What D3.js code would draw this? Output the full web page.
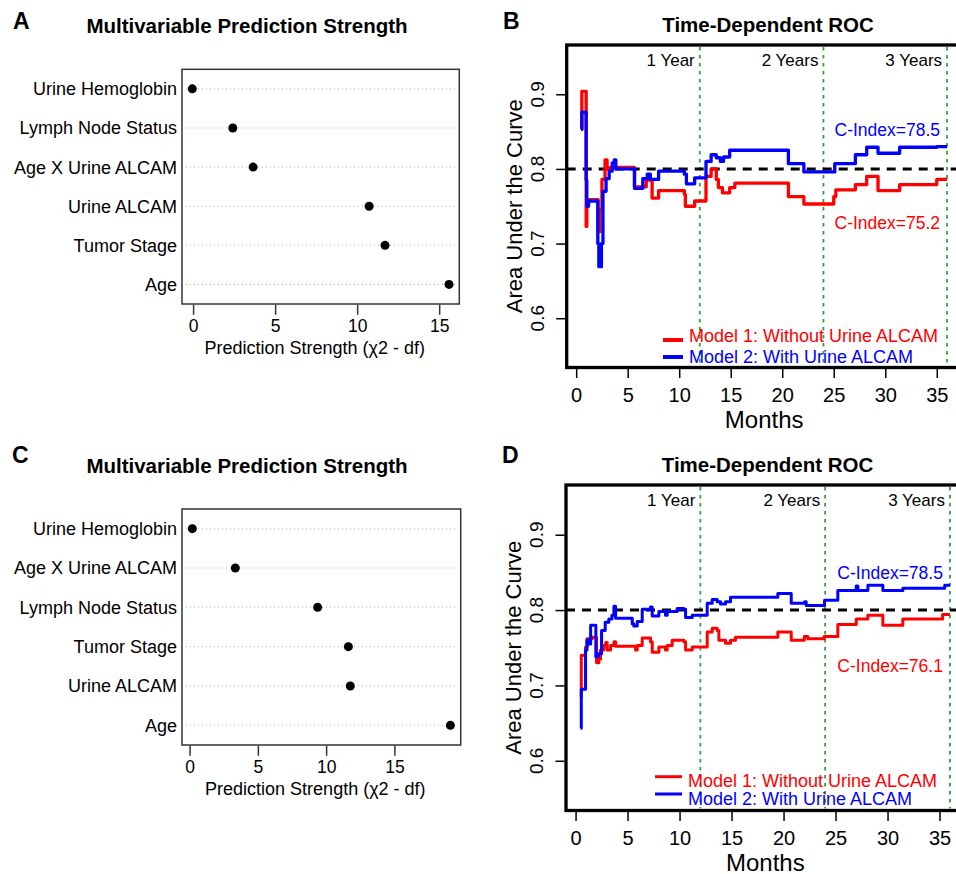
<!DOCTYPE html>
<html>
<head>
<meta charset="utf-8">
<script src="https://cdn.jsdelivr.net/npm/d3@7"></script>
<style>
body { margin: 0; background: #fff; }
svg { display: block; font-family: "Liberation Sans", Arial, Helvetica, sans-serif; }
</style>
</head>
<body>
<div class="chart"></div>
<script>
// ---- data ----
var dotLabelsA = ["Urine Hemoglobin", "Lymph Node Status", "Age X Urine ALCAM", "Urine ALCAM", "Tumor Stage", "Age"];
var dotValuesA = [-0.05, 2.42, 3.66, 10.73, 11.7, 15.6];

var dotLabelsC = ["Urine Hemoglobin", "Age X Urine ALCAM", "Lymph Node Status", "Tumor Stage", "Urine ALCAM", "Age"];
var dotValuesC = [0.2, 3.35, 9.38, 11.63, 11.77, 19.1];

var dotTicks = [0, 5, 10, 15];

var monthTicks = [0, 5, 10, 15, 20, 25, 30, 35];
var aucTicks = [0.6, 0.7, 0.8, 0.9];
var yearMarks = [12, 24, 36];
var yearLabels = ["1 Year", "2 Years", "3 Years"];
var monthRange = [0.5, 36];
var aucRange = [0.55, 0.95];
var aucRef = 0.8;

var legendLabels = ["Model 1: Without Urine ALCAM", "Model 2: With Urine ALCAM"];
var cIndexB = [75.2, 78.5];
var cIndexD = [76.1, 78.5];

// [month, AUC] pairs, step functions
var rocB_model1 = [[0.48, 0.853], [0.55, 0.904], [0.97, 0.723], [1.03, 0.759], [2.13, 0.716], [2.3, 0.745],
  [2.5, 0.786], [2.8, 0.812], [3.0, 0.800], [3.3, 0.802], [5.66, 0.776], [6.8, 0.785], [7.37, 0.761],
  [8.0, 0.771], [10.5, 0.766], [10.6, 0.750], [11.5, 0.757], [12.6, 0.790], [13.1, 0.800], [13.6, 0.786],
  [13.8, 0.775], [14.2, 0.768], [14.9, 0.775], [15.4, 0.781], [20.6, 0.763], [22.1, 0.753], [25.0, 0.763],
  [25.2, 0.772], [27.1, 0.779], [28.2, 0.790], [29.3, 0.771], [31.4, 0.779], [35.0, 0.786], [36.0, 0.786]];
var rocB_model2 = [[0.48, 0.853], [0.55, 0.876], [0.97, 0.785], [1.03, 0.750], [1.2, 0.757], [2.1, 0.700],
  [2.2, 0.669], [2.45, 0.700], [2.6, 0.770], [2.9, 0.787], [3.2, 0.797], [3.5, 0.808], [3.7, 0.812],
  [3.85, 0.800], [5.66, 0.774], [6.47, 0.787], [6.9, 0.793], [7.2, 0.786], [8.0, 0.797], [10.5, 0.793],
  [10.7, 0.780], [11.5, 0.788], [12.6, 0.810], [13.1, 0.819], [13.6, 0.815], [14.0, 0.810], [14.3, 0.816],
  [14.9, 0.825], [20.6, 0.807], [22.1, 0.796], [25.1, 0.807], [27.1, 0.819], [28.2, 0.829], [29.3, 0.821],
  [31.4, 0.829], [35.0, 0.830], [36.0, 0.830]];

var rocD_model1 = [[0.48, 0.685], [0.55, 0.740], [0.96, 0.751], [1.1, 0.762], [1.6, 0.764], [2.02, 0.730],
  [2.24, 0.735], [2.4, 0.747], [2.72, 0.753], [2.9, 0.757], [3.04, 0.747], [3.37, 0.753], [3.69, 0.758],
  [3.85, 0.752], [5.77, 0.747], [5.93, 0.753], [6.41, 0.763], [7.21, 0.758], [7.37, 0.744], [8.01, 0.751],
  [8.65, 0.747], [8.81, 0.753], [9.29, 0.760], [10.42, 0.758], [10.58, 0.747], [11.22, 0.751], [12.66, 0.771],
  [13.14, 0.776], [13.62, 0.773], [13.78, 0.760], [14.42, 0.756], [14.9, 0.760], [15.38, 0.764], [19.45, 0.771],
  [20.74, 0.760], [22.0, 0.765], [22.34, 0.762], [23.9, 0.765], [25.22, 0.781], [26.99, 0.788], [28.11, 0.793],
  [29.55, 0.780], [31.47, 0.788], [35.3, 0.794], [36.0, 0.794]];
var rocD_model2 = [[0.48, 0.643], [0.55, 0.695], [0.96, 0.747], [1.1, 0.760], [1.3, 0.755], [1.45, 0.780],
  [1.95, 0.738], [2.2, 0.742], [2.5, 0.773], [2.85, 0.784], [3.2, 0.788], [3.5, 0.793], [3.69, 0.805],
  [3.85, 0.789], [5.45, 0.782], [5.6, 0.779], [5.93, 0.785], [6.41, 0.801], [7.21, 0.804], [7.37, 0.792],
  [8.01, 0.798], [8.65, 0.793], [8.81, 0.798], [9.77, 0.802], [10.42, 0.801], [10.58, 0.790], [11.22, 0.793],
  [12.66, 0.809], [13.14, 0.814], [13.62, 0.811], [13.94, 0.808], [14.42, 0.811], [14.9, 0.817], [19.45, 0.822],
  [20.74, 0.809], [22.02, 0.811], [22.18, 0.806], [23.94, 0.813], [25.22, 0.826], [26.99, 0.832], [27.15, 0.826],
  [28.11, 0.833], [29.55, 0.826], [31.47, 0.829], [35.5, 0.833], [36.0, 0.833]];

var colModel1 = "#ff0000", colModel2 = "#0000ff";

var svg = d3.select(".chart").append("svg")
    .attr("width", 956)
    .attr("height", 874);

function padded(lo, hi) {
    var p = (hi - lo) * 0.04;
    return [lo - p, hi + p];
}

function panelLetter(t, x, y) {
    svg.append("text").attr("x", x).attr("y", y)
        .style("font-size", "23px").style("font-weight", "bold").text(t);
}

function title(t, x, y) {
    svg.append("text").attr("x", x).attr("y", y).attr("text-anchor", "middle")
        .style("font-size", "20.5px").style("font-weight", "bold").text(t);
}

// dotchart panel (A, C)
function drawDots(o) {
    var g = svg.append("g");
    var x = d3.scaleLinear().domain(padded(d3.min(o.values), d3.max(o.values))).range([o.left, o.right]);
    var y = d3.scaleBand().domain(o.labels).range([o.top, o.bottom]);
    var cy = function(d){ return y(d) + y.bandwidth() / 2; };

    g.selectAll(".grid").data(o.labels).enter().append("line")
        .attr("x1", o.left + 4).attr("x2", o.right - 3)
        .attr("y1", cy).attr("y2", cy)
        .attr("stroke", "#b5b5b5").attr("stroke-width", 1)
        .attr("stroke-dasharray", "1,3");

    g.append("rect")
        .attr("x", o.left).attr("y", o.top)
        .attr("width", o.right - o.left).attr("height", o.bottom - o.top)
        .attr("fill", "none").attr("stroke", "#333").attr("stroke-width", 1.5);

    g.selectAll(".dot").data(o.values).enter().append("circle")
        .attr("cx", function(d){ return x(d); })
        .attr("cy", function(d, i){ return cy(o.labels[i]); })
        .attr("r", 4.5).attr("fill", "#000");

    g.selectAll(".lab").data(o.labels).enter().append("text")
        .attr("x", o.left - 5).attr("y", cy).attr("dy", "0.36em")
        .attr("text-anchor", "end").style("font-size", "18px").text(function(d){ return d; });

    var ax = g.append("g")
        .attr("transform", "translate(0," + (o.bottom + 0.75) + ")")
        .call(d3.axisBottom(x).tickValues(dotTicks).tickSize(10).tickPadding(5));
    ax.select(".domain").remove();
    ax.selectAll("line").attr("stroke", "#333").attr("stroke-width", 1.5);
    ax.selectAll("text").style("font-size", "17.5px").style("font-family", "inherit").attr("fill", "#000");

    g.append("text")
        .attr("x", (o.left + o.right) / 2 - 6).attr("y", o.bottom + 50)
        .attr("text-anchor", "middle").style("font-size", "18px")
        .text("Prediction Strength (\u03C72 - df)");
}

// time-dependent ROC panel (B, D)
function drawRoc(o) {
    var g = svg.append("g");
    var x = d3.scaleLinear().domain(padded(monthRange[0], monthRange[1])).range([o.left, o.right]);
    var y = d3.scaleLinear().domain(padded(aucRange[0], aucRange[1])).range([o.bottom, o.top]);

    // year markers
    g.selectAll(".year").data(yearMarks).enter().append("line")
        .attr("x1", x).attr("x2", x)
        .attr("y1", o.top + 2).attr("y2", o.bottom - 2)
        .attr("stroke", "#34a034").attr("stroke-width", 1.8)
        .attr("stroke-dasharray", "3.5,4.5");
    g.selectAll(".yearlab").data(yearMarks).enter().append("text")
        .attr("x", function(d){ return x(d) - 5; })
        .attr("y", o.top + 21)
        .attr("text-anchor", "end").style("font-size", "17px")
        .text(function(d, i){ return yearLabels[i]; });

    // reference line
    g.append("line")
        .attr("x1", o.left).attr("x2", o.right)
        .attr("y1", y(aucRef)).attr("y2", y(aucRef))
        .attr("stroke", "#000").attr("stroke-width", 3)
        .attr("stroke-dasharray", "9,7");

    var line = d3.line()
        .x(function(d){ return x(d[0]); })
        .y(function(d){ return y(d[1]); })
        .curve(d3.curveStepAfter);

    g.append("path").datum(o.m1).attr("d", line)
        .attr("fill", "none").attr("stroke", colModel1).attr("stroke-width", o.lw)
        .attr("stroke-linejoin", "round");
    g.append("path").datum(o.m2).attr("d", line)
        .attr("fill", "none").attr("stroke", colModel2).attr("stroke-width", o.lw)
        .attr("stroke-linejoin", "round");

    // c-index notes
    g.append("text").attr("x", x(36) - 7).attr("y", y(o.cBlueY))
        .attr("text-anchor", "end").attr("fill", colModel2).style("font-size", "17.5px")
        .text("C-Index=" + o.cIndex[1]);
    g.append("text").attr("x", x(36) - 7).attr("y", y(o.cRedY))
        .attr("text-anchor", "end").attr("fill", colModel1).style("font-size", "17.5px")
        .text("C-Index=" + o.cIndex[0]);

    // legend
    var cols = [colModel1, colModel2];
    legendLabels.forEach(function(t, i){
        g.append("line")
            .attr("x1", o.legX1).attr("x2", o.legX2)
            .attr("y1", o.legLineY[i]).attr("y2", o.legLineY[i])
            .attr("stroke", cols[i]).attr("stroke-width", o.legW);
        g.append("text").attr("x", o.legX2 + 6).attr("y", o.legTextY[i])
            .attr("fill", cols[i]).style("font-size", "18px").text(t);
    });

    // frame
    g.append("rect")
        .attr("x", o.left).attr("y", o.top)
        .attr("width", o.right - o.left).attr("height", o.bottom - o.top)
        .attr("fill", "none").attr("stroke", "#000").attr("stroke-width", 3.3);

    // x axis
    var ax = g.append("g")
        .attr("transform", "translate(0," + (o.bottom + 1.5) + ")")
        .call(d3.axisBottom(x).tickValues(monthTicks).tickSize(9).tickPadding(10));
    ax.select(".domain").remove();
    ax.selectAll("line").attr("stroke", "#000").attr("stroke-width", 1.5);
    ax.selectAll("text").style("font-size", "20px").style("font-family", "inherit").attr("fill", "#000");

    // y axis (labels parallel to axis)
    var ay = g.append("g")
        .attr("transform", "translate(" + (o.left - 1.5) + ",0)")
        .call(d3.axisLeft(y).tickValues(aucTicks).tickSize(9).tickFormat(""));
    ay.select(".domain").remove();
    ay.selectAll("line").attr("stroke", "#000").attr("stroke-width", 1.5);
    g.selectAll(".ylab").data(aucTicks).enter().append("text")
        .attr("transform", function(d){ return "translate(" + (o.left - 23) + "," + y(d) + ") rotate(-90)"; })
        .attr("text-anchor", "middle").style("font-size", "19px")
        .text(d3.format(".1f"));

    g.append("text")
        .attr("transform", "translate(" + (o.left - 45) + "," + ((o.top + o.bottom) / 2) + ") rotate(-90)")
        .attr("text-anchor", "middle").style("font-size", "22px")
        .text("Area Under the Curve");

    g.append("text")
        .attr("x", (o.left + o.right) / 2).attr("y", o.bottom + 60)
        .attr("text-anchor", "middle").style("font-size", "24px")
        .text("Months");
}

// ---- panels ----
panelLetter("A", 13, 29);
title("Multivariable Prediction Strength", 247, 32.7);
drawDots({labels: dotLabelsA, values: dotValuesA, left: 182, right: 459.3, top: 69.3, bottom: 304});

panelLetter("C", 12, 463);
title("Multivariable Prediction Strength", 247, 472.7);
drawDots({labels: dotLabelsC, values: dotValuesC, left: 182, right: 460.7, top: 509, bottom: 745});

panelLetter("B", 503, 29);
title("Time-Dependent ROC", 768, 31.7);
drawRoc({m1: rocB_model1, m2: rocB_model2, cIndex: cIndexB, cBlueY: 0.844, cRedY: 0.72,
    left: 566.7, right: 961.7, top: 45, bottom: 367.5, lw: 3.3,
    legX1: 663, legX2: 683, legLineY: [340, 357], legTextY: [341.5, 362.5], legW: 4});

panelLetter("D", 502, 463);
title("Time-Dependent ROC", 767.5, 471.7);
drawRoc({m1: rocD_model1, m2: rocD_model2, cIndex: cIndexD, cBlueY: 0.841, cRedY: 0.718,
    left: 566, right: 964.7, top: 485, bottom: 810.5, lw: 3,
    legX1: 655, legX2: 682, legLineY: [776.7, 794], legTextY: [786.7, 805], legW: 3});
</script>
</body>
</html>
